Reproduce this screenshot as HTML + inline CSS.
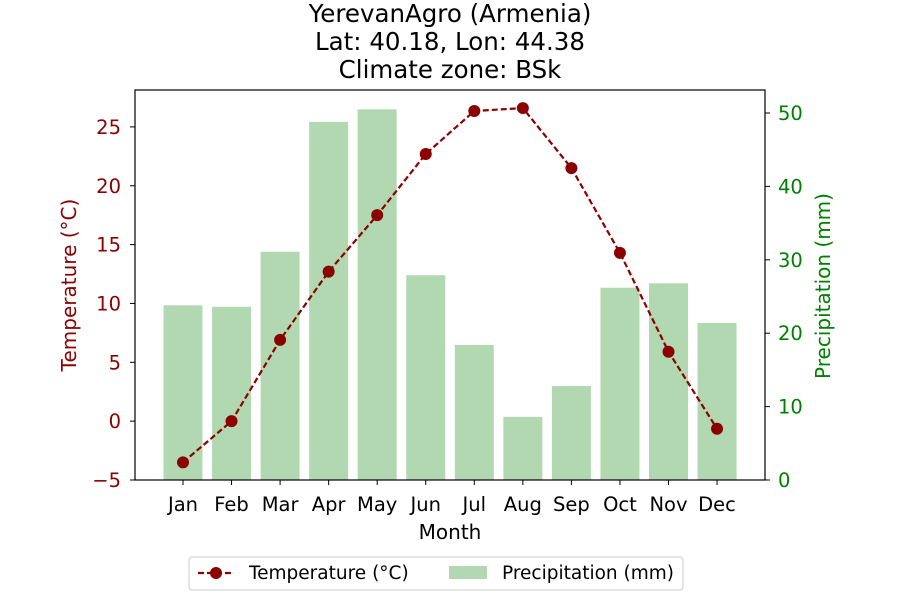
<!DOCTYPE html>
<html><head><meta charset="utf-8"><style>body{margin:0;background:#fff}svg{font-family:"DejaVu Sans","Liberation Sans",sans-serif}</style></head>
<body>
<svg id="c" width="900" height="600">
<g font-size="24.5" text-anchor="middle" fill="#000">
<text x="450" y="22">YerevanAgro (Armenia)</text>
<text x="450" y="50">Lat: 40.18, Lon: 44.38</text>
<text x="450" y="78">Climate zone: BSk</text>
</g>
<g id="bars"></g>
<g id="line"></g>
<rect x="135" y="90" width="630" height="390" fill="none" stroke="#000" stroke-width="1.2"/>
<g id="axes"></g>
<text x="450" y="539" font-size="20" text-anchor="middle">Month</text>
<text transform="translate(76,285) rotate(-90)" font-size="20" text-anchor="middle" fill="#8b0000">Temperature (°C)</text>
<text transform="translate(830,286) rotate(-90)" font-size="20" text-anchor="middle" fill="#008000">Precipitation (mm)</text>
<g>
<rect x="189" y="557" width="494" height="33" rx="3" fill="#fff" stroke="#ccc"/>
<line x1="198" y1="573" x2="234" y2="573" stroke="#8b0000" stroke-width="2.2" stroke-dasharray="6,3"/>
<circle cx="216" cy="573" r="6" fill="#8b0000"/>
<text x="249" y="579" font-size="18.5">Temperature (°C)</text>
<rect x="449" y="566" width="38" height="13" fill="#b2d8b2"/>
<text x="502" y="579" font-size="18.5">Precipitation (mm)</text>
</g>
</svg>
<script>
const months=["Jan","Feb","Mar","Apr","May","Jun","Jul","Aug","Sep","Oct","Nov","Dec"];
const precip=[23.8,23.6,31.1,48.8,50.5,27.9,18.4,8.6,12.8,26.2,26.8,21.4];
const temps=[-3.5,0.0,6.9,12.7,17.5,22.7,26.35,26.6,21.5,14.3,5.9,-0.65];
const tTicks=[-5,0,5,10,15,20,25];
const pTicks=[0,10,20,30,40,50];
const NS="http://www.w3.org/2000/svg";
const x=i=>183+48.55*i;
const yT=v=>480-(v+5)*11.77;
const yP=v=>480-v*7.34;
function mk(t,a,p){const e=document.createElementNS(NS,t);for(const k in a)e.setAttribute(k,a[k]);(p||document.getElementById('c')).appendChild(e);return e;}
const bars=document.getElementById('bars');
precip.forEach((v,i)=>{const r=mk('rect',{x:x(i)-19.5,y:yP(v),width:39,height:480-yP(v),fill:'#b2d8b2'},bars);

});
const line=document.getElementById('line');
const pl=mk('polyline',{points:temps.map((v,i)=>x(i)+','+yT(v)).join(' '),fill:'none',stroke:'#8b0000','stroke-width':2.2,'stroke-dasharray':'6,3'},line);


temps.forEach((v,i)=>{const c=mk('circle',{cx:x(i),cy:yT(v),r:6,fill:'#8b0000'},line);

});
const ax=document.getElementById('axes');
months.forEach((m,i)=>{mk('line',{x1:x(i),x2:x(i),y1:480,y2:485,stroke:'#000'},ax);
const t=mk('text',{x:x(i),y:511,'font-size':19.5,'text-anchor':'middle'},ax);t.textContent=m;

});
tTicks.forEach(v=>{mk('line',{x1:130,x2:135,y1:yT(v),y2:yT(v),stroke:'#000'},ax);
const t=mk('text',{x:121,y:yT(v)+7,'font-size':19.5,'text-anchor':'end',fill:'#8b0000'},ax);t.textContent=v<0?'\u2212'+(-v):v;

});
pTicks.forEach(v=>{mk('line',{x1:765,x2:770,y1:yP(v),y2:yP(v),stroke:'#000'},ax);
const t=mk('text',{x:778,y:yP(v)+7,'font-size':19.5,fill:'#008000'},ax);t.textContent=v;

});
</script>
</body></html>
